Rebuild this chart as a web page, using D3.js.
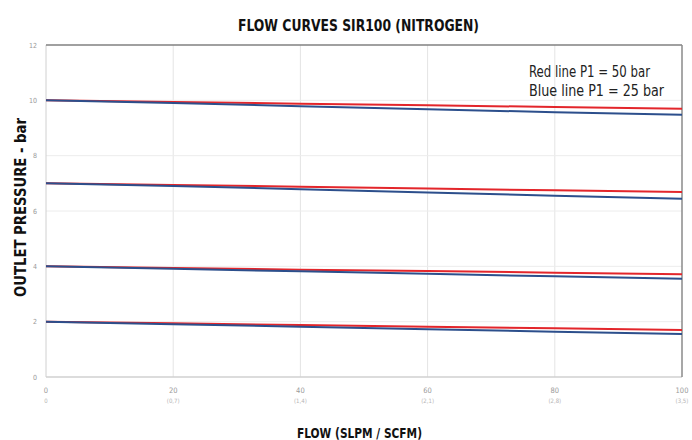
<!DOCTYPE html>
<html><head><meta charset="utf-8">
<script src="https://cdn.jsdelivr.net/npm/d3@7"></script>
<style>body{margin:0;background:#fff}svg{display:block}</style>
</head><body>
<svg id="c" width="692" height="440"></svg>
<script>
const flow = [0, 20, 40, 60, 80, 100];
const xTickLabels = ["0", "20", "40", "60", "80", "100"];
const xSubLabels = ["0", "(0,7)", "(1,4)", "(2,1)", "(2,8)", "(3,5)"];
const yTicks = [0, 2, 4, 6, 8, 10, 12];
const red10 = [10, 9.94, 9.88, 9.82, 9.76, 9.70];
const blue10 = [10, 9.90, 9.79, 9.68, 9.57, 9.48];
const red7 = [7, 6.94, 6.88, 6.81, 6.75, 6.69];
const blue7 = [7, 6.90, 6.79, 6.67, 6.55, 6.44];
const red4 = [4, 3.94, 3.88, 3.83, 3.77, 3.71];
const blue4 = [4, 3.91, 3.82, 3.73, 3.64, 3.55];
const red2 = [2, 1.94, 1.88, 1.82, 1.76, 1.70];
const blue2 = [2, 1.91, 1.82, 1.73, 1.64, 1.55];

const svg = d3.select("#c");
const L = 46, R = 682, T = 45, B = 377;
const x = d3.scaleLinear().domain([0, 100]).range([L, R]);
const y = d3.scaleLinear().domain([0, 12]).range([B, T]);
const font = "'DejaVu Sans Condensed','DejaVu Sans',sans-serif";

// grid
svg.append("g").selectAll("line").data([20, 40, 60, 80]).join("line")
  .attr("x1", d => x(d)).attr("x2", d => x(d)).attr("y1", T).attr("y2", B)
  .attr("stroke", "#e4e4e4").attr("stroke-width", 1);
svg.append("g").selectAll("line").data([2, 4, 6, 8, 10]).join("line")
  .attr("x1", L).attr("x2", R).attr("y1", d => y(d)).attr("y2", d => y(d))
  .attr("stroke", "#ececec").attr("stroke-width", 1);

// frame
svg.append("line").attr("x1", L).attr("x2", L).attr("y1", T).attr("y2", B).attr("stroke", "#d0d0d0");
svg.append("line").attr("x1", L).attr("x2", R).attr("y1", B).attr("y2", B).attr("stroke", "#d0d0d0").attr("stroke-width", 1.5);
svg.append("line").attr("x1", L).attr("x2", R).attr("y1", T).attr("y2", T).attr("stroke", "#808080").attr("stroke-width", 1.5);
svg.append("line").attr("x1", R).attr("x2", R).attr("y1", T).attr("y2", B).attr("stroke", "#8a8a8a").attr("stroke-width", 1.5);

// y ticks
svg.append("g").selectAll("text").data(yTicks).join("text")
  .attr("x", 37).attr("y", d => y(d) + 2.5).attr("text-anchor", "end")
  .attr("font-family", font).attr("font-size", 7).attr("fill", "#999").text(d => d);

// x ticks
svg.append("g").selectAll("text").data(flow).join("text")
  .attr("x", d => x(d)).attr("y", 393).attr("text-anchor", "middle")
  .attr("font-family", font).attr("font-size", 7.5).attr("fill", "#999").text((d, i) => xTickLabels[i]);
svg.append("g").selectAll("text").data(flow).join("text")
  .attr("x", d => x(d)).attr("y", 403).attr("text-anchor", "middle")
  .attr("font-family", font).attr("font-size", 6).attr("fill", "#b5b5b5").text((d, i) => xSubLabels[i]);

// lines
const line = d3.line().x((d, i) => x(flow[i])).y(d => y(d));
const reds = [red10, red7, red4, red2];
const blues = [blue10, blue7, blue4, blue2];
reds.forEach(s => {
  svg.append("path").datum(s).attr("d", line).attr("fill", "none").attr("stroke", "#e3262b").attr("stroke-width", 2);
});
blues.forEach(s => {
  svg.append("path").datum(s).attr("d", line).attr("fill", "none").attr("stroke", "#2c4f8c").attr("stroke-width", 2);
});

// legend text
svg.append("text").attr("x", 529).attr("y", 77).attr("font-family", font).attr("font-size", 16)
  .attr("textLength", 121).attr("lengthAdjust", "spacingAndGlyphs").attr("fill", "#222").text("Red line P1 = 50 bar");
svg.append("text").attr("x", 529).attr("y", 96).attr("font-family", font).attr("font-size", 16)
  .attr("textLength", 135).attr("lengthAdjust", "spacingAndGlyphs").attr("fill", "#222").text("Blue line P1 = 25 bar");

// titles
svg.append("text").attr("x", 238).attr("y", 31)
  .attr("font-family", font).attr("font-weight", "bold").attr("font-size", 16.5).attr("fill", "#111")
  .attr("textLength", 241).attr("lengthAdjust", "spacingAndGlyphs")
  .text("FLOW CURVES SIR100 (NITROGEN)");
svg.append("text").attr("x", 297).attr("y", 438)
  .attr("font-family", font).attr("font-weight", "bold").attr("font-size", 14.5).attr("fill", "#111")
  .attr("textLength", 125).attr("lengthAdjust", "spacingAndGlyphs")
  .text("FLOW (SLPM / SCFM)");
svg.append("text").attr("transform", "translate(26,297) rotate(-90)")
  .attr("font-family", font).attr("font-weight", "bold").attr("font-size", 15).attr("fill", "#111")
  .attr("textLength", 179).attr("lengthAdjust", "spacingAndGlyphs")
  .text("OUTLET PRESSURE - bar");
</script>
</body></html>
